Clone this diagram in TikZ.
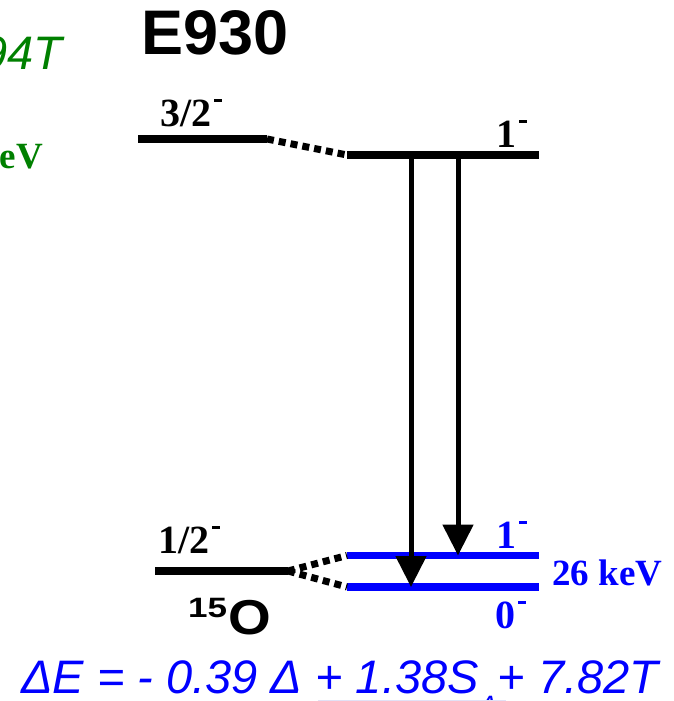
\documentclass[tikz,border=0pt]{standalone}
\usepackage{fontspec}
\setmainfont{Liberation Serif}
\setsansfont{Liberation Sans}
\usetikzlibrary{arrows.meta}
\definecolor{eblue}{RGB}{0,0,255}
\definecolor{egreen}{RGB}{0,128,0}
\definecolor{faintline}{RGB}{225,225,245}
\newcommand\supminus{\kern3pt\rule[24pt]{8pt}{3.5pt}}
\begin{document}
\begin{tikzpicture}[x=1pt,y=-1pt,
  level/.style={line width=8pt},
  blevel/.style={line width=7.5pt, draw=eblue},
  dotline/.style={line width=7pt, dash pattern=on 7pt off 5pt},
  trans/.style={line width=5pt, -{Triangle[width=30pt,length=31pt]}},
  lab/.style={inner sep=0pt, anchor=base west, font=\bfseries\fontsize{40}{44}\selectfont},
  blab/.style={lab, text=eblue},
]
\useasboundingbox (0,0) rectangle (674,701);
\clip (0,0) rectangle (674,701);

% title and cut-off green texts
\node[inner sep=0pt, anchor=base west, font=\sffamily\bfseries\fontsize{63}{66}\selectfont] (title) at (141,55) {E930};
\node[inner sep=0pt, anchor=base east, text=egreen, font=\sffamily\itshape\fontsize{47}{50}\selectfont] (geq) at (62,70) {0.94\kern-0.02em T};
\node[inner sep=0pt, anchor=base east, text=egreen, font=\bfseries\fontsize{37}{40}\selectfont] (gkev) at (43,168) {keV};

% level coordinates
\coordinate (l32a) at (138,139);
\coordinate (l32b) at (267,139);
\coordinate (l1a) at (347,155);
\coordinate (l1b) at (539,155);
\coordinate (l12a) at (155,571);
\coordinate (l12b) at (288,571);
\coordinate (b1a) at (347,555.5);
\coordinate (b1b) at (539,555.5);
\coordinate (b0a) at (347,587);
\coordinate (b0b) at (539,587);
\coordinate (t1) at (411,152);
\coordinate (t2) at (458,152);
\coordinate (h1) at (411,587);
\coordinate (h2) at (458,555.5);

% levels
\draw[level] (l32a) -- (l32b);
\draw[level] (l1a) -- (l1b);
\draw[level] (l12a) -- (l12b);
\draw[blevel] (b1a) -- (b1b);
\draw[blevel] (b0a) -- (b0b);

% dotted correspondences
\draw[dotline] (l32b) -- (l1a);
\draw[dotline] (l12b) -- (b1a);
\draw[dotline] (l12b) -- (b0a);

% transitions
\draw[trans] (t1) -- (h1);
\draw[trans] (t2) -- (h2);

% labels
\node[lab] (j32) at (160,126) {3/2\supminus};
\node[lab] (j1t) at (496,147) {1\supminus};
\node[lab] (j12) at (158,553) {1/2\supminus};
\node[blab] (j1b) at (496,548) {1\supminus};
\node[blab] (j0b) at (495,628) {0\supminus};
\node[blab, font=\bfseries\fontsize{37}{40}\selectfont] (split) at (552,585) {26 keV};
\node[inner sep=0pt, anchor=base west, font=\sffamily\bfseries\fontsize{49}{50}\selectfont] (nuc) at (188,634) {\raisebox{17pt}{\fontsize{28}{30}\selectfont\scalebox{1.25}[1]{15}}\kern1pt\scalebox{1.12}[1]{O}};

% formula
\node[inner sep=0pt, anchor=base west, text=eblue, font=\sffamily\itshape\fontsize{47}{50}\selectfont] (formula) at (21,693)
  {ΔE = - 0.39 Δ + 1.38S\raisebox{-22pt}{\fontsize{28}{28}\selectfont Δ}+ 7.82T};
\coordinate (ula) at (318,700);
\coordinate (ulb) at (506,700);
\draw[faintline, line width=1pt] (ula) -- (ulb);
\end{tikzpicture}
\end{document}
